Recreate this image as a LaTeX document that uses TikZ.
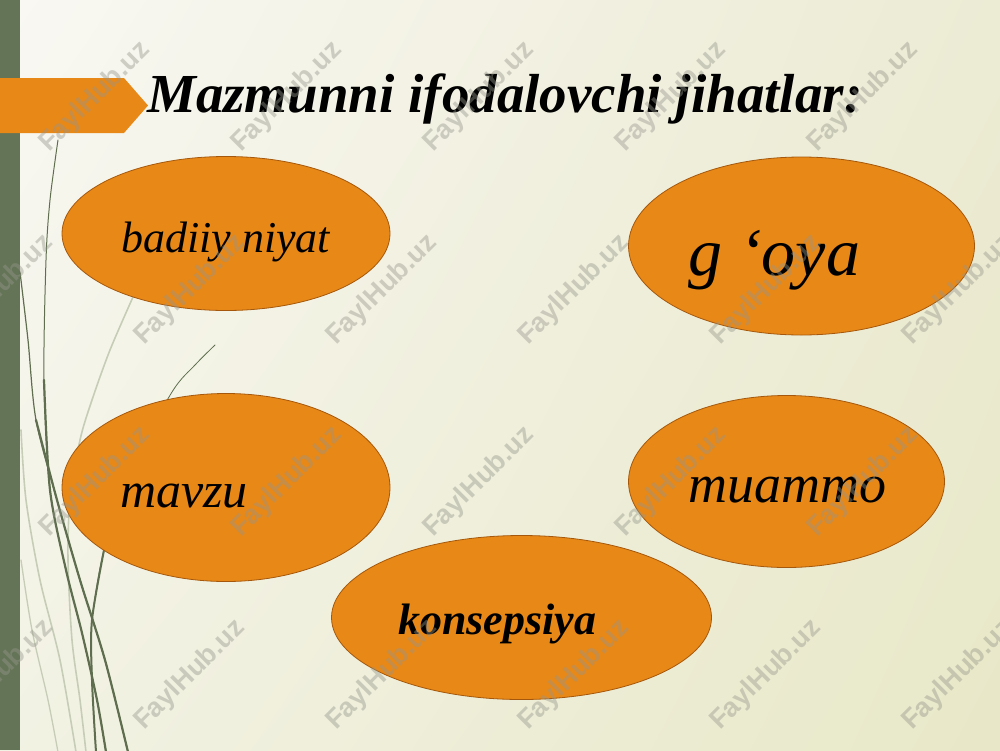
\documentclass[tikz,border=0pt]{standalone}
\usepackage{fontspec}
\setmainfont{Liberation Serif}
\newfontfamily\wmfont{Liberation Sans}
\usetikzlibrary{shapes.geometric,shadings}
\definecolor{orangefill}{RGB}{232,136,22}
\definecolor{orangeline}{RGB}{165,88,12}
\definecolor{stripe}{RGB}{100,116,86}
\definecolor{bladedark}{RGB}{94,110,78}
\definecolor{bladelight}{RGB}{198,205,182}
\definecolor{bgUL}{RGB}{249,248,243}
\definecolor{bgUR}{RGB}{236,235,212}
\definecolor{bgLL}{RGB}{242,242,228}
\definecolor{bgLR}{RGB}{232,232,200}
\definecolor{wmgray}{RGB}{150,150,140}
\begin{document}
\begin{tikzpicture}[x=1pt,y=-1pt,
  oval/.style={ellipse, draw=orangeline, line width=0.8pt, fill=orangefill, inner sep=0pt},
  ovaltext/.style={anchor=base west, inner sep=0pt, text=black},
  darkblade/.style={draw=bladedark, line cap=round},
  lightblade/.style={draw=bladelight, line cap=round},
  watermark/.style={font=\wmfont\bfseries\fontsize{27}{27}\selectfont, text=wmgray, opacity=0.42, rotate=45, inner sep=0pt}]
\useasboundingbox (0,0) rectangle (1000,750);
% background
\shade[upper left=bgUL, upper right=bgUR, lower left=bgLL, lower right=bgLR] (0,0) rectangle (1000,750);
\fill[stripe] (0,0) rectangle (20,750);
% grass blades
\draw[lightblade, line width=1.6pt] plot[smooth] coordinates {(133,297) (110,350) (92,400) (80,440) (70,500) (68,560) (72,640) (80,700) (86,752)};
\draw[lightblade, line width=1.6pt] plot[smooth] coordinates {(21,430) (26,500) (40,580) (60,660) (76,752)};
\draw[lightblade, line width=1.3pt] plot[smooth] coordinates {(21,560) (32,630) (48,700) (58,752)};
\draw[darkblade, line width=1pt] plot[smooth] coordinates {(58,140) (50,200) (46,260) (44,380) (50,490) (66,570) (82,633) (97,700) (106,752)};
\draw[darkblade, line width=2.2pt] plot[smooth] coordinates {(44,380) (50,490) (66,570) (82,633) (97,700) (106,752)};
\draw[darkblade, line width=1.2pt] plot[smooth] coordinates {(20,272) (28,340) (36,420) (57,500) (80,580) (105,660) (128,752)};
\draw[darkblade, line width=2.2pt] plot[smooth] coordinates {(36,420) (57,500) (80,580) (105,660) (128,752)};
\draw[darkblade, line width=0.8pt] plot[smooth] coordinates {(215,345) (195,365) (172,392) (130,470) (105,545) (92,620) (92,680) (96,752)};
\draw[darkblade, line width=2pt] plot[smooth] coordinates {(105,545) (92,620) (92,680) (96,752)};
% title arrow
\fill[orangefill] (0,78) -- (124,78) -- (148,105.5) -- (124,133) -- (0,133) -- cycle;
\node[anchor=base west, inner sep=0pt, font=\bfseries\itshape\fontsize{55}{60}\selectfont] (title) at (147,112) {Mazmunni ifodalovchi jihatlar:};
% ovals
\node[oval, minimum width=328pt, minimum height=154pt] (e1) at (226,233.5) {};
\node[oval, minimum width=346pt, minimum height=178pt] (e2) at (801.5,246) {};
\node[oval, minimum width=328pt, minimum height=188pt] (e3) at (226,487.5) {};
\node[oval, minimum width=316pt, minimum height=172pt] (e4) at (786.5,481.5) {};
\node[oval, minimum width=380pt, minimum height=164pt] (e5) at (521.5,617.5) {};
\node[ovaltext, font=\itshape\fontsize{44}{48}\selectfont] (t1) at (121,252) {badiiy niyat};
\node[ovaltext, font=\itshape\fontsize{68}{72}\selectfont] (t2) at (688,275) {g ‘oya};
\node[ovaltext, font=\itshape\fontsize{50}{54}\selectfont] (t3) at (120,507) {mavzu};
\node[ovaltext, font=\itshape\fontsize{54}{58}\selectfont] (t4) at (688,502) {muammo};
\node[ovaltext, font=\bfseries\itshape\fontsize{44}{48}\selectfont] (t5) at (398,634) {konsepsiya};
% watermarks
\foreach \i in {0,...,4} {
  \node[watermark] (wa\i) at ({95+192*\i},97) {FaylHub.uz};
  \node[watermark] (wc\i) at ({95+192*\i},482) {FaylHub.uz};
}
\foreach \i in {0,...,5} {
  \node[watermark] (wb\i) at ({-2+192*\i},290) {FaylHub.uz};
  \node[watermark] (wd\i) at ({-2+192*\i},675) {FaylHub.uz};
}
\end{tikzpicture}
\end{document}
